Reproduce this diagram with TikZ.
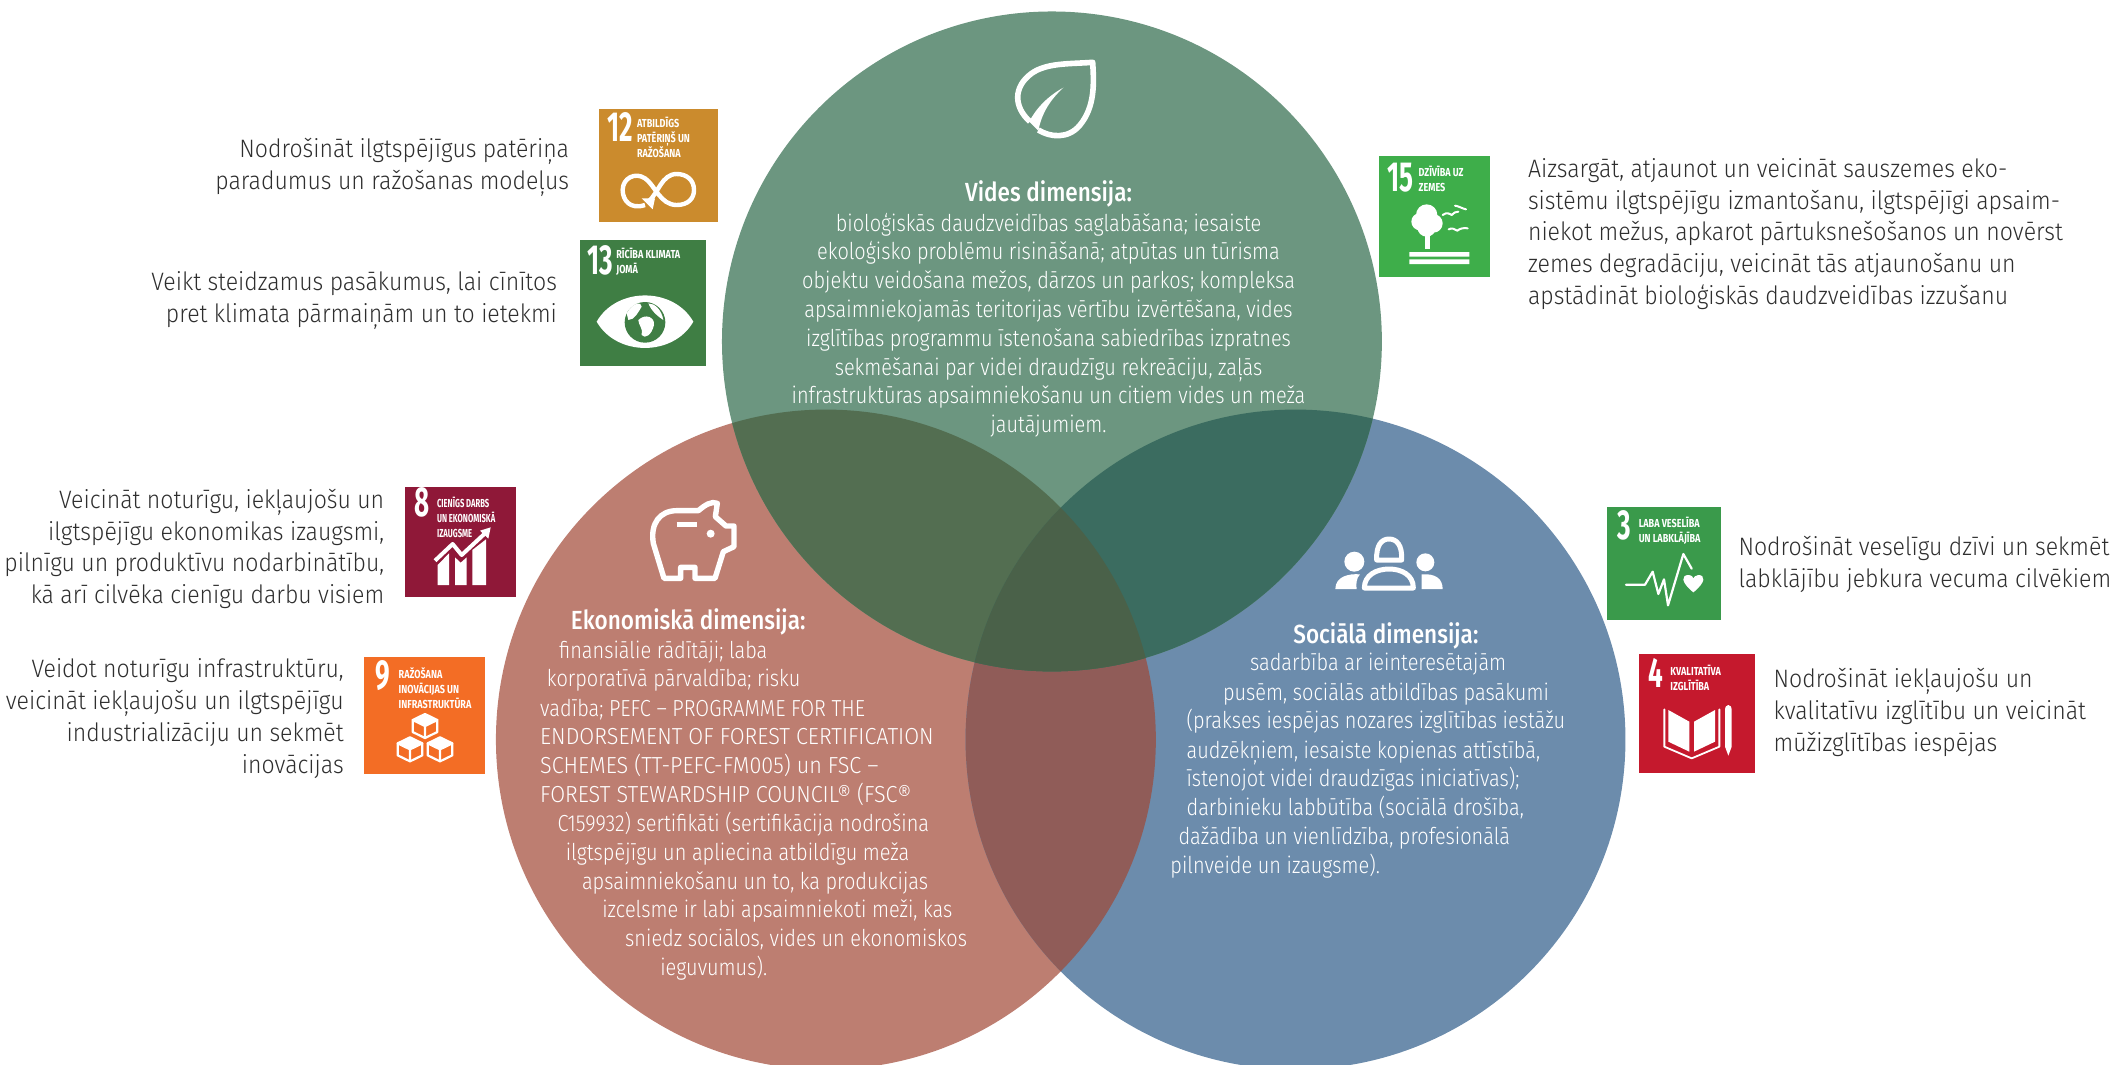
\documentclass[tikz,border=0pt]{standalone}
\usepackage{fontspec}
\setmainfont{Fira Sans Light}[FakeStretch=0.915,BoldFont={Fira Sans Medium}]
\newfontfamily\condfont{Fira Sans Light}[FakeStretch=0.86,BoldFont={Fira Sans Medium}]
\newfontfamily\capfont{Fira Sans Light}[FakeStretch=0.93]
\newfontfamily\sdgfont{Fira Sans}[FakeStretch=0.78]
\newfontfamily\sdgnarrow{Fira Sans}[FakeStretch=0.66]
\newfontfamily\numfont{Fira Sans}[FakeStretch=0.62]
\definecolor{cgreen}{HTML}{6C9680}
\definecolor{cred}{HTML}{BD7E71}
\definecolor{cblue}{HTML}{6C8CAC}
\definecolor{ogr}{HTML}{536E51}
\definecolor{ogb}{HTML}{3B6C60}
\definecolor{orb}{HTML}{905C58}
\definecolor{orgb}{HTML}{4A6149}
\definecolor{sideink}{HTML}{2E2E2E}
\definecolor{s12}{HTML}{CB8B2D}
\definecolor{s13}{HTML}{3F7E44}
\definecolor{s15}{HTML}{3EAE4A}
\definecolor{s8}{HTML}{8F1838}
\definecolor{s9}{HTML}{F36D25}
\definecolor{s3}{HTML}{3A9A4B}
\definecolor{s4}{HTML}{C5192D}
\tikzset{
  crop/.style 2 args={shift={(#1*0.5pt,-#2*0.5pt)},x=0.16667pt,y=-0.16667pt},
  sidetext/.style={text=sideink,font=\fontsize{12.6}{15.9}\selectfont,inner sep=0pt},
  sideL/.style={sidetext,align=right,anchor=north east},
  sideR/.style={sidetext,align=left,anchor=north west},
  inw/.style={text=white,font=\condfont\fontsize{11.6}{14.4}\selectfont,inner sep=0pt},
  intitle/.style={text=white,font=\condfont\bfseries\fontsize{13.1}{14.4}\selectfont,inner sep=0pt},
  num/.style={text=white,font=\numfont\bfseries\fontsize{21}{21}\selectfont,inner sep=0pt,anchor=base west},
  lab/.style={text=white,font=\sdgfont\bfseries\fontsize{5.8}{7.5}\selectfont,inner sep=0pt,anchor=north west,align=left},
  wline/.style={draw=white,line width=#1,line join=round,line cap=round},
  wline/.default=1.6pt,
}
\newcommand{\cG}{(779.5,253) circle (244.5)}
\newcommand{\cR}{(612,548) circle (244.5)}
\newcommand{\cB}{(960,548) circle (244.5)}
\begin{document}
\begin{tikzpicture}[x=0.67474pt,y=-0.67474pt]
\useasboundingbox (0,0) rectangle (1568,788.5);
\begin{scope}
\clip (0,0) rectangle (1568,788.5);
\fill[cred] \cR;
\fill[cblue] \cB;
\fill[cgreen] \cG;
\begin{scope}\clip \cR; \fill[orb] \cB; \fill[ogr] \cG; \end{scope}
\begin{scope}\clip \cB; \fill[ogb] \cG; \end{scope}
\begin{scope}\clip \cR; \clip \cB; \fill[orgb] \cG; \end{scope}
\end{scope}

% --- circle texts
\node[intitle] (vtitle) at (777,144) {Vides dimensija:};
\node[inw,align=center,anchor=north] (vbody) at (777,157.5) {bioloģiskās daudzveidības saglabāšana; iesaiste\\ekoloģisko problēmu risināšanā; atpūtas un tūrisma\\objektu veidošana mežos, dārzos un parkos; kompleksa\\apsaimniekojamās teritorijas vērtību izvērtēšana, vides\\izglītības programmu īstenošana sabiedrības izpratnes\\sekmēšanai par videi draudzīgu rekreāciju, zaļās\\infrastruktūras apsaimniekošanu un citiem vides un meža\\jautājumiem.};

\node[intitle] (etitle) at (510,461) {Ekonomiskā dimensija:};
\foreach \i/\xx/\yy/\t in {
1/414/488/{finansiālie rādītāji; laba},
2/405/509/{korporatīvā pārvaldība; risku},
3/400/531/{vadība; PEFC – PROGRAMME FOR THE},
4/400/552/{\capfont ENDORSEMENT OF FOREST CERTIFICATION},
5/400/573/{\capfont SCHEMES (TT-PEFC-FM005) un FSC –},
6/400/595/{\capfont FOREST STEWARDSHIP COUNCIL® (FSC®},
7/413/616/{C159932) sertifikāti (sertifikācija nodrošina},
8/419/638/{ilgtspējīgu un apliecina atbildīgu meža},
9/431/659/{apsaimniekošanu un to, ka produkcijas},
10/446/680/{izcelsme ir labi apsaimniekoti meži, kas},
11/463/701/{sniedz sociālos, vides un ekonomiskos},
12/489/723/{ieguvumus).}}
  \node[inw,anchor=base west] (eko\i) at (\xx,\yy) {\t};

\node[intitle] (stitle) at (1027,471) {Sociālā dimensija:};
\foreach \i/\xx/\yy/\t in {
1/926/497/{sadarbība ar ieinteresētajām},
2/906/519/{pusēm, sociālās atbildības pasākumi},
3/879/540/{(prakses iespējas nozares izglītības iestāžu},
4/879/562/{audzēkņiem, iesaiste kopienas attīstībā,},
5/879/583/{īstenojot videi draudzīgas iniciatīvas);},
6/879/604/{darbinieku labbūtība (sociālā drošība,},
7/873/626/{dažādība un vienlīdzība, profesionālā},
8/867/647/{pilnveide un izaugsme).}}
  \node[inw,anchor=base west] (soc\i) at (\xx,\yy) {\t};

% --- side texts
\node[sideL] (t12) at (422,102) {Nodrošināt ilgtspējīgus patēriņa\\paradumus un ražošanas modeļus};
\node[sideL] (t13) at (413,201) {Veikt steidzamus pasākumus, lai cīnītos\\pret klimata pārmaiņām un to ietekmi};
\node[sideL] (t8) at (285,362) {Veicināt noturīgu, iekļaujošu un\\ilgtspējīgu ekonomikas izaugsmi,\\pilnīgu un produktīvu nodarbinātību,\\kā arī cilvēka cienīgu darbu visiem};
\node[sideL] (t9) at (255,488) {Veidot noturīgu infrastruktūru,\\veicināt iekļaujošu un ilgtspējīgu\\industrializāciju un sekmēt\\inovācijas};
\node[sideR] (t15) at (1132,117) {Aizsargāt, atjaunot un veicināt sauszemes eko-\\sistēmu ilgtspējīgu izmantošanu, ilgtspējīgi apsaim-\\niekot mežus, apkarot pārtuksnešošanos un novērst\\zemes degradāciju, veicināt tās atjaunošanu un\\apstādināt bioloģiskās daudzveidības izzušanu};
\node[sideR] (t3) at (1288,397) {Nodrošināt veselīgu dzīvi un sekmēt\\labklājību jebkura vecuma cilvēkiem};
\node[sideR] (t4) at (1314,495) {Nodrošināt iekļaujošu un\\kvalitatīvu izglītību un veicināt\\mūžizglītības iespējas};

% --- white icons
\begin{scope}[crop={1000}{50}]
  \draw[wline=2.8pt,line cap=butt] (90,215) .. controls (40,170) and (40,110) .. (95,70) .. controls (140,38) and (210,42) .. (278,37) .. controls (282,100) and (285,170) .. (240,225) .. controls (205,268) and (150,262) .. (115,240);
  \fill[white] (190,113) .. controls (140,140) and (105,180) .. (88,215) -- (115,242) .. controls (125,190) and (150,150) .. (190,113) -- cycle;
\end{scope}
\begin{scope}[crop={640}{480}]
  \draw[wline=2.7pt] (72,295) -- (40,190) .. controls (30,130) and (60,92) .. (110,92) -- (175,92) .. controls (195,75) and (215,62) .. (232,70) -- (226,110) -- (258,138) -- (282,138) -- (282,200) -- (250,215) -- (225,295) -- (165,295) -- (165,262) -- (122,262) -- (122,295) -- cycle;
  \draw[wline=2.7pt,line cap=butt] (110,133) -- (170,133);
  \fill[white] (212,161) circle (12);
\end{scope}
\begin{scope}[crop={1320}{520}]
  \draw[wline=2.5pt] (170,120) .. controls (168,75) and (185,57) .. (207,57) .. controls (230,57) and (247,75) .. (245,120) -- cycle;
  \draw[wline=2.5pt] (133,204) .. controls (133,165) and (170,147) .. (207,147) .. controls (245,147) and (280,165) .. (280,204) -- cycle;
  \fill[white] (103,125) circle (30);
  \fill[white] (316,127) circle (27);
  \fill[white] (46,207) .. controls (46,170) and (85,160) .. (120,163) .. controls (108,175) and (108,195) .. (110,207) -- cycle;
  \fill[white] (305,207) -- (305,163) .. controls (345,160) and (368,175) .. (368,207) -- cycle;
\end{scope}

% --- SDG 12
\begin{scope}[crop={580}{90}]
  \fill[s12] (57,57) rectangle (414,395);
  \node[num] (n12) at (80,153) {12};
  \node[lab] (l12) at (170,80) {ATBILDĪGS\\PATĒRIŅŠ UN\\RAŽOŠANA};
  \draw[wline=2.2pt,line cap=butt] (195,345) .. controls (150,360) and (128,330) .. (128,300) .. controls (128,265) and (165,245) .. (195,265) .. controls (225,285) and (240,345) .. (290,345) .. controls (325,345) and (342,325) .. (342,300) .. controls (342,270) and (320,252) .. (290,252) .. controls (245,252) and (235,310) .. (205,335);
  \fill[white] (185,325) -- (225,325) -- (218,358) -- cycle;
\end{scope}
% --- SDG 13
\begin{scope}[crop={580}{90}]
  \fill[s13] (0,450) rectangle (378,828);
  \node[num] (n13) at (22,553) {13};
  \node[lab] (l13) at (108,473) {RĪCĪBA KLIMATA\\JOMĀ};
  \fill[white] (50,695) .. controls (110,590) and (280,590) .. (340,695) .. controls (280,800) and (110,800) .. (50,695) -- cycle;
  \fill[s13] (195,697) circle (61);
  \fill[white] (140,670) .. controls (160,635) and (185,635) .. (185,650) .. controls (175,665) and (165,690) .. (145,690) -- cycle;
  \fill[white] (175,690) .. controls (195,670) and (225,680) .. (222,705) .. controls (215,735) and (195,748) .. (185,735) .. controls (190,715) and (175,705) .. (175,690) -- cycle;
  \fill[white] (205,640) .. controls (225,640) and (245,660) .. (250,690) .. controls (235,680) and (215,665) .. (205,640) -- cycle;
\end{scope}
% --- SDG 15
\begin{scope}[crop={1370}{140}]
  \fill[s15] (27,48) rectangle (360,410);
  \node[num] (n15) at (50,153) {15};
  \node[lab] (l15) at (145,77) {DZĪVĪBA UZ\\ZEMES};
  \fill[white] (170,225) circle (32) (150,245) circle (26) (190,250) circle (28) (170,262) circle (28);
  \fill[white] (166,285) rectangle (181,328);
  \fill[white] (118,336) rectangle (298,350) (118,358) rectangle (298,372);
  \draw[wline=1pt] (218,225) .. controls (230,215) and (240,222) .. (245,225) .. controls (250,218) and (258,215) .. (265,215);
  \draw[wline=1pt] (255,197) .. controls (265,198) and (275,205) .. (288,208);
  \draw[wline=1pt] (236,268) .. controls (245,262) and (255,268) .. (262,272) .. controls (270,265) and (282,263) .. (293,265);
\end{scope}
% --- SDG 8
\begin{scope}[crop={390}{470}]
  \fill[s8] (45,52) rectangle (378,380);
  \node[num] (n8) at (72,140) {8};
  \node[lab] (l8) at (140,80) {\sdgnarrow CIENĪGS DARBS\\\sdgnarrow UN EKONOMISKĀ\\\sdgnarrow IZAUGSME};
  \fill[white] (143,345) -- (143,285) -- (177,250) -- (177,345) -- cycle;
  \fill[white] (195,345) -- (195,262) -- (212,278) -- (230,262) -- (230,345) -- cycle;
  \fill[white] (247,345) -- (247,240) -- (288,208) -- (288,345) -- cycle;
  \draw[wline=2pt,line cap=butt] (135,272) -- (188,222) -- (215,255) -- (285,190);
  \fill[white] (270,182) -- (302,172) -- (295,206) -- cycle;
\end{scope}
% --- SDG 9
\begin{scope}[crop={360}{470}]
  \fill[s9] (13,560) rectangle (375,912);
  \node[num] (n9) at (45,658) {9};
  \node[lab] (l9) at (115,590) {RAŽOŠANA\\INOVĀCIJAS UN\\INFRASTRUKTŪRA};
  \foreach \cx/\cy/\cn in {195/768/a,150/838/b,240/838/c}{
    \draw[wline=1.1pt] (\cx-37,\cy-18) -- (\cx,\cy-36) -- (\cx+37,\cy-18) -- (\cx+37,\cy+18) -- (\cx,\cy+36) -- (\cx-37,\cy+18) -- cycle;
    \draw[wline=1.1pt] (\cx-37,\cy-18) -- (\cx,\cy) -- (\cx+37,\cy-18) (\cx,\cy) -- (\cx,\cy+36);
    \fill[white] (\cx-37,\cy-18) -- (\cx,\cy-36) -- (\cx+37,\cy-18) -- (\cx,\cy) -- cycle;
  }
\end{scope}
% --- SDG 3
\begin{scope}[crop={1590}{490}]
  \fill[s3] (52,50) rectangle (392,390);
  \node[num] (n3) at (80,148) {3};
  \node[lab] (l3) at (145,80) {LABA VESELĪBA\\UN LABKLĀJĪBA};
  \draw[wline=1.1pt] (108,284) -- (165,284) -- (188,245) -- (205,312) -- (222,268) -- (234,346) -- (280,192) -- (305,236);
  \fill[white] (310,307) .. controls (270,275) and (275,255) .. (295,255) .. controls (305,255) and (310,262) .. (310,265) .. controls (310,262) and (317,255) .. (325,255) .. controls (345,255) and (350,275) .. (310,307) -- cycle;
\end{scope}
% --- SDG 4
\begin{scope}[crop={1590}{490}]
  \fill[s4] (147,492) rectangle (495,848);
  \node[num] (n4) at (175,593) {4};
  \node[lab] (l4) at (240,523) {KVALITATĪVA\\IZGLĪTĪBA};
  \fill[white] (235,660) -- (298,695) -- (298,785) -- (235,755) -- cycle;
  \fill[white] (312,695) -- (375,660) -- (375,755) -- (312,785) -- cycle;
  \draw[wline=0.9pt] (223,658) -- (223,770) -- (305,805) -- (388,770) -- (388,658);
  \fill[white] (405,660) .. controls (405,640) and (425,640) .. (425,660) -- (425,770) -- (415,797) -- (405,770) -- cycle;
\end{scope}
\end{tikzpicture}
\end{document}
